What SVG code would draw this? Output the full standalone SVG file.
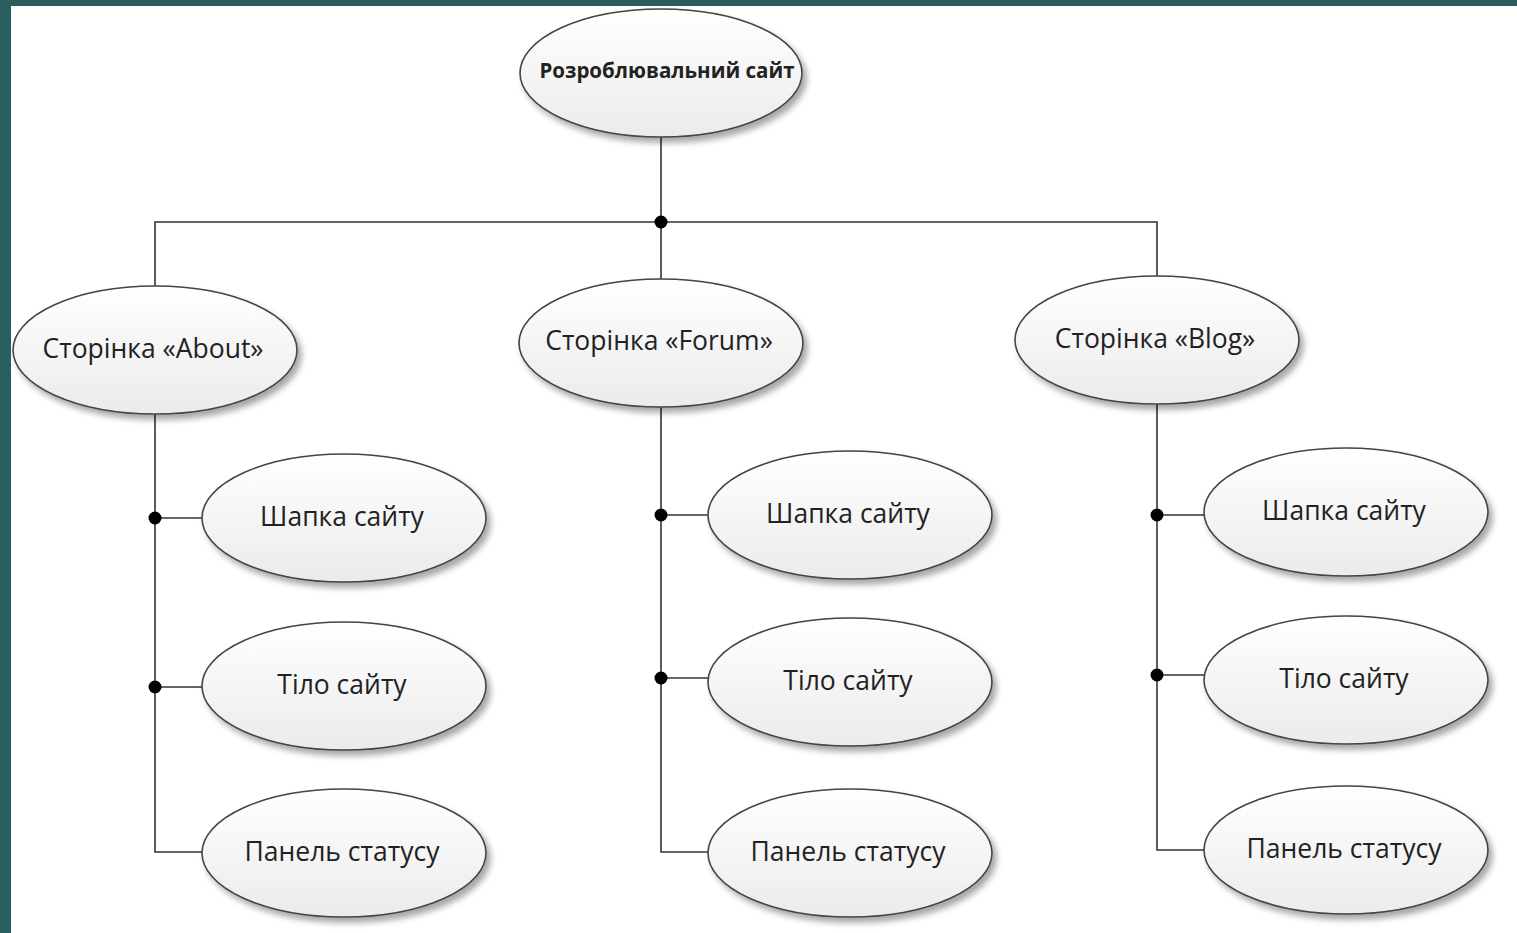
<svg xmlns="http://www.w3.org/2000/svg" width="1517" height="933" viewBox="0 0 1517 933">
<defs>
<linearGradient id="g" x1="0" y1="0" x2="0" y2="1">
<stop offset="0" stop-color="#ffffff"/>
<stop offset="1" stop-color="#ebebeb"/>
</linearGradient>
<filter id="sh" x="-20%" y="-20%" width="150%" height="150%">
<feGaussianBlur in="SourceAlpha" stdDeviation="3"/>
<feOffset dx="4" dy="5" result="b"/>
<feComponentTransfer><feFuncA type="linear" slope="0.35"/></feComponentTransfer>
<feMerge><feMergeNode/><feMergeNode in="SourceGraphic"/></feMerge>
</filter>
</defs>
<style>
.n ellipse{fill:url(#g);stroke:#444;stroke-width:1.6;filter:url(#sh)}
.n text{font-family:"Open Sans","Noto Sans",sans-serif;font-size:26.5px;fill:#222;text-anchor:middle;dominant-baseline:central}
.c line,.c polyline{stroke:#333;stroke-width:1.6;fill:none}
.c circle{fill:#000}
</style>
<rect x="0" y="0" width="1517" height="933" fill="#ffffff"/>
<rect x="0" y="0" width="1517" height="6" fill="#2a5e5e"/>
<rect x="0" y="0" width="11" height="933" fill="#2a5e5e"/>
<g class="c" id="connectors">
<line x1="661" y1="137" x2="661" y2="279"/>
<polyline points="155,286 155,222 1157,222 1157,277"/>
<circle cx="661" cy="222" r="6.5"/>
<polyline points="155,414 155,852 202,852"/>
<line x1="155" y1="518" x2="202" y2="518"/>
<line x1="155" y1="687" x2="202" y2="687"/>
<circle cx="155" cy="518" r="6.5"/>
<circle cx="155" cy="687" r="6.5"/>
<polyline points="661,407 661,852 708,852"/>
<line x1="661" y1="515" x2="708" y2="515"/>
<line x1="661" y1="678" x2="708" y2="678"/>
<circle cx="661" cy="515" r="6.5"/>
<circle cx="661" cy="678" r="6.5"/>
<polyline points="1157,404 1157,850 1204,850"/>
<line x1="1157" y1="515" x2="1204" y2="515"/>
<line x1="1157" y1="675" x2="1204" y2="675"/>
<circle cx="1157" cy="515" r="6.5"/>
<circle cx="1157" cy="675" r="6.5"/>
</g>
<g class="n" id="root"><ellipse cx="661" cy="73" rx="141" ry="64"/><text x="667" y="70" style="font-size:20.5px;font-weight:bold">Розроблювальний сайт</text></g>
<g class="n" id="about"><ellipse cx="155" cy="350" rx="142" ry="64"/><text x="153" y="348">Сторінка «About»</text></g>
<g class="n" id="forum"><ellipse cx="661" cy="343" rx="142" ry="64"/><text x="659" y="340">Сторінка «Forum»</text></g>
<g class="n" id="blog"><ellipse cx="1157" cy="340" rx="142" ry="64"/><text x="1155" y="338">Сторінка «Blog»</text></g>
<g class="n" id="about-header"><ellipse cx="344" cy="518" rx="142" ry="64"/><text x="342" y="516">Шапка сайту</text></g>
<g class="n" id="about-body"><ellipse cx="344" cy="686" rx="142" ry="64"/><text x="342" y="684">Тіло сайту</text></g>
<g class="n" id="about-status"><ellipse cx="344" cy="853" rx="142" ry="64"/><text x="342" y="851">Панель статусу</text></g>
<g class="n" id="forum-header"><ellipse cx="850" cy="515" rx="142" ry="64"/><text x="848" y="513">Шапка сайту</text></g>
<g class="n" id="forum-body"><ellipse cx="850" cy="682" rx="142" ry="64"/><text x="848" y="680">Тіло сайту</text></g>
<g class="n" id="forum-status"><ellipse cx="850" cy="853" rx="142" ry="64"/><text x="848" y="851">Панель статусу</text></g>
<g class="n" id="blog-header"><ellipse cx="1346" cy="512" rx="142" ry="64"/><text x="1344" y="510">Шапка сайту</text></g>
<g class="n" id="blog-body"><ellipse cx="1346" cy="680" rx="142" ry="64"/><text x="1344" y="678">Тіло сайту</text></g>
<g class="n" id="blog-status"><ellipse cx="1346" cy="850" rx="142" ry="64"/><text x="1344" y="848">Панель статусу</text></g>
</svg>
